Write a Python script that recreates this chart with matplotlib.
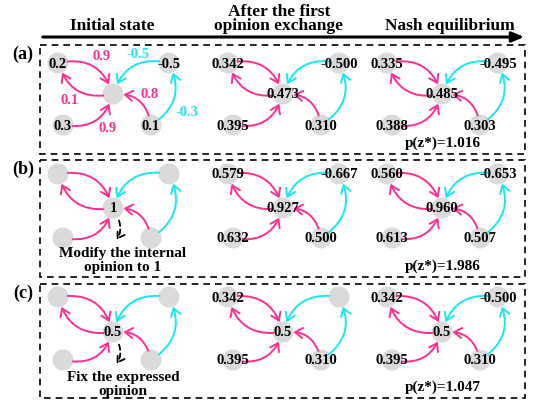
import matplotlib
matplotlib.use('Agg')
import matplotlib.pyplot as plt
from matplotlib.patches import Circle, Rectangle, FancyArrowPatch

plt.rcParams['font.family'] = ['Liberation Serif', 'DejaVu Serif']
plt.rcParams['font.weight'] = 'bold'

# node order: top-left, top-right, centre, bottom-left, bottom-right
headers = ['Initial state', 'After the first\nopinion exchange', 'Nash equilibrium']
row_tags = ['(a)', '(b)', '(c)']

a_init = ['0.2', '-0.5', '', '0.3', '0.1']
a_first = ['0.342', '-0.500', '0.473', '0.395', '0.310']
a_nash = ['0.335', '-0.495', '0.485', '0.388', '0.303']
b_init = ['', '', '1', '', '']
b_first = ['0.579', '-0.667', '0.927', '0.632', '0.500']
b_nash = ['0.560', '-0.653', '0.960', '0.613', '0.507']
c_init = ['', '', '0.5', '', '']
c_first = ['0.342', '', '0.5', '0.395', '0.310']
c_nash = ['0.342', '-0.500', '0.5', '0.395', '0.310']
p_values = [1.016, 1.986, 1.047]

# (source, target, weight) ; weight > 0 magenta, < 0 cyan
edges = [(0, 2, 0.9), (2, 0, 0.1), (3, 2, 0.9), (4, 2, 0.8), (1, 2, -0.5), (4, 1, -0.3)]
notes = ['', 'Modify the internal\nopinion to 1', 'Fix the expressed\nopinion']

rows = [[a_init, a_first, a_nash], [b_init, b_first, b_nash], [c_init, c_first, c_nash]]

PINK = '#ff2e93'
CYAN = '#19e8ef'
GREY = '#dadada'

# layout in pixel coordinates
panel_x = [113, 283, 442]
node_dx = [-55, 56, 0, -50, 38]
row_y = [(63, 94, 125), (174, 208, 238), (297, 332, 360)]
boxes = [(45, 154), (160, 277), (284, 398)]
rads = {(0, 2): -0.45, (2, 0): -0.45, (3, 2): 0.45, (4, 2): 0.45, (1, 2): 0.45, (4, 1): 0.45}
weight_pos = {(0, 2): (102, 57), (2, 0): (70, 100), (3, 2): (108, 128),
              (4, 2): (150, 95), (1, 2): (138, 55), (4, 1): (187, 113)}

fig = plt.figure(figsize=(5.36, 4.08), dpi=100)
ax = fig.add_axes([0, 0, 1, 1])
ax.set_xlim(0, 536)
ax.set_ylim(408, 0)
ax.axis('off')

# header
ax.text(112, 26, headers[0], ha='center', va='center', fontsize=12.5)
ax.text(279, 19, headers[1], ha='center', va='center', fontsize=12.5, linespacing=0.85)
ax.text(450, 26, headers[2], ha='center', va='center', fontsize=12.5)
ax.annotate('', xy=(527, 37), xytext=(40, 37),
            arrowprops=dict(arrowstyle='-|>,head_length=0.6,head_width=0.25',
                            lw=2.2, color='black', mutation_scale=12))

for r, row in enumerate(rows):
    top, bot = boxes[r]
    ax.add_patch(Rectangle((40, top), 485, bot - top, fill=False, lw=1.2,
                           ls=(0, (4, 3)), ec='black'))
    ax.text(23, top + 9, row_tags[r], ha='center', va='center', fontsize=13)
    yt, yc, yb = row_y[r]
    for p, labels in enumerate(row):
        xs = [panel_x[p] + d for d in node_dx]
        ys = [yt, yt, yc, yb, yb]
        for k in range(5):
            ax.add_patch(Circle((xs[k], ys[k]), 10.5, color=GREY, zorder=1, lw=0))
            if labels[k]:
                ax.text(xs[k], ys[k] + 1, labels[k], ha='center', va='center',
                        fontsize=10.5, zorder=4)
        for s, t, w in edges:
            col = PINK if w > 0 else CYAN
            arr = FancyArrowPatch((xs[s], ys[s]), (xs[t], ys[t]),
                                  connectionstyle='arc3,rad=%.2f' % rads[(s, t)],
                                  arrowstyle='->,head_length=0.45,head_width=0.3',
                                  mutation_scale=12, lw=1.4, color=col,
                                  shrinkA=7, shrinkB=7.5, zorder=2)
            ax.add_patch(arr)
            if r == 0 and p == 0:
                lx, ly = weight_pos[(s, t)]
                ax.text(lx, ly, '%g' % w, color=col, ha='center', va='center',
                        fontsize=10.5, zorder=4)
        if p == 2:
            ax.text(443, bot - 11, 'p(z*)=%.3f' % p_values[r], ha='center',
                    va='center', fontsize=11, zorder=4)
    if notes[r]:
        cx = panel_x[0]
        ax.add_patch(FancyArrowPatch((cx + 5, yc + 10), (cx + 2, yc + 34),
                                     connectionstyle='arc3,rad=-0.3',
                                     arrowstyle='->,head_length=0.4,head_width=0.25',
                                     mutation_scale=12, lw=1.3, ls=(0, (3, 2)),
                                     color='black', zorder=2))
        line1, line2 = notes[r].split('\n')
        ax.text(cx + 10, yc + 46, line1, ha='center', va='center', fontsize=11, zorder=4)
        ax.text(cx + 10, yc + 59, line2, ha='center', va='center', fontsize=11, zorder=4)

fig.savefig('out.png', dpi=100)
